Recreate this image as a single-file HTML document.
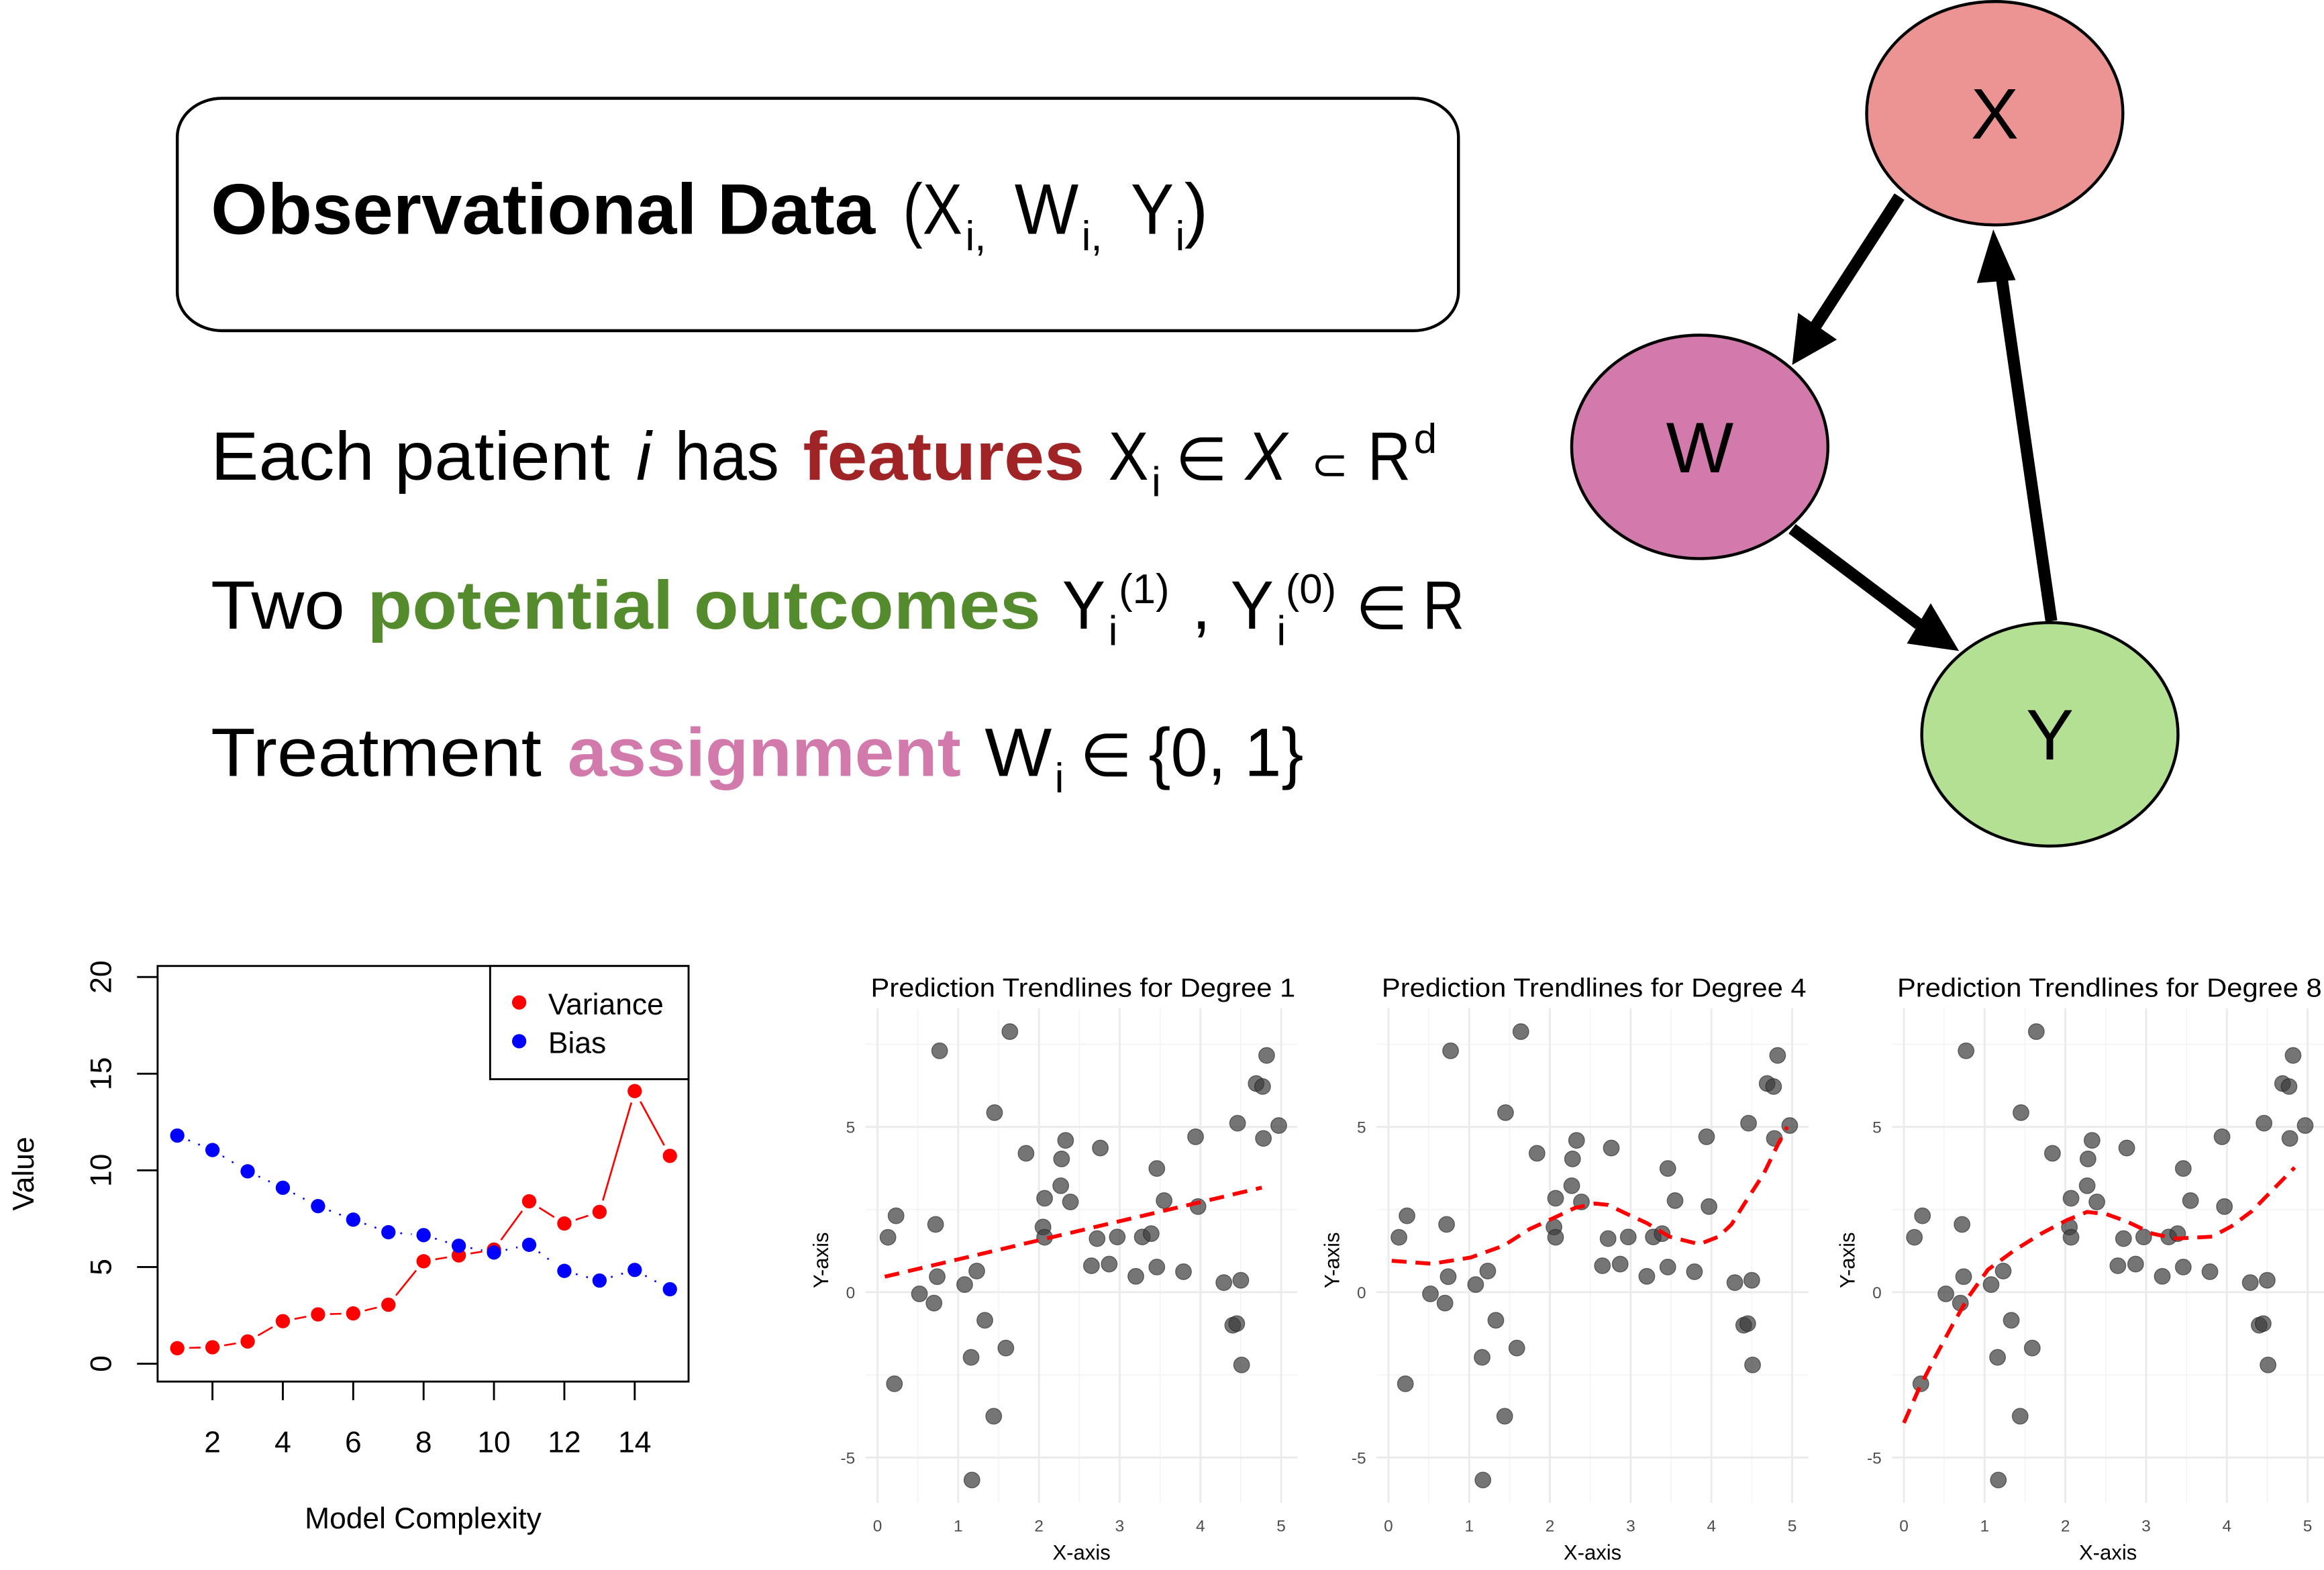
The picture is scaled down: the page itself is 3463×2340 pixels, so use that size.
<!DOCTYPE html>
<html><head><meta charset="utf-8"><style>
html,body{margin:0;padding:0;background:#fff;}
svg{display:block;}
text{font-family:"Liberation Sans",sans-serif;}
</style></head><body>
<svg id="s" xmlns="http://www.w3.org/2000/svg" width="3463" height="2340" viewBox="0 0 1560 1054" preserveAspectRatio="none">
<rect x="0" y="0" width="1560" height="1054" fill="#fff"/>
<!-- Title box -->
<rect x="119" y="66" width="860" height="156" rx="30" ry="26" fill="none" stroke="#000" stroke-width="2"/>
<g font-size="48" fill="#000">
<text x="141.5" y="157" font-weight="bold" textLength="446" lengthAdjust="spacingAndGlyphs">Observational Data</text>
<text x="606" y="157" textLength="40" lengthAdjust="spacingAndGlyphs">(X</text>
<text x="648" y="168" font-size="28">i,</text>
<text x="681" y="157" textLength="43" lengthAdjust="spacingAndGlyphs">W</text>
<text x="726" y="168" font-size="28">i,</text>
<text x="759" y="157" textLength="29" lengthAdjust="spacingAndGlyphs">Y</text>
<text x="789" y="168" font-size="28">i</text>
<text x="795" y="157">)</text>
</g>
<!-- Line 1 -->
<g font-size="46" fill="#000">
<text x="141.5" y="322" textLength="268" lengthAdjust="spacingAndGlyphs">Each patient</text>
<text x="427" y="322" font-style="italic">i</text>
<text x="453" y="322" textLength="70" lengthAdjust="spacingAndGlyphs">has</text>
<text x="539" y="322" font-weight="bold" fill="#a02326" textLength="189" lengthAdjust="spacingAndGlyphs">features</text>
<text x="744" y="322" textLength="27" lengthAdjust="spacingAndGlyphs">X</text>
<text x="773" y="333" font-size="28">i</text>
<text x="789" y="322" font-family="DejaVu Sans" font-size="40">∈</text>
<text x="836" y="322" font-style="italic" textLength="28" lengthAdjust="spacingAndGlyphs">X</text>
<text x="880" y="322" font-family="DejaVu Sans" font-size="30">⊂</text>
<text x="918" y="322" textLength="29" lengthAdjust="spacingAndGlyphs">R</text>
<text x="949" y="304" font-size="28">d</text>
</g>
<!-- Line 2 -->
<g font-size="46" fill="#000">
<text x="141.5" y="422" textLength="90" lengthAdjust="spacingAndGlyphs">Two</text>
<text x="246.6" y="422" font-weight="bold" fill="#548b2c" textLength="452" lengthAdjust="spacingAndGlyphs">potential outcomes</text>
<text x="713" y="422" textLength="29" lengthAdjust="spacingAndGlyphs">Y</text>
<text x="744" y="433" font-size="28">i</text>
<text x="751" y="405" font-size="28" textLength="34" lengthAdjust="spacingAndGlyphs">(1)</text>
<text x="800" y="422">,</text>
<text x="826" y="422" textLength="29" lengthAdjust="spacingAndGlyphs">Y</text>
<text x="857" y="433" font-size="28">i</text>
<text x="863" y="405" font-size="28" textLength="34" lengthAdjust="spacingAndGlyphs">(0)</text>
<text x="910" y="422" font-family="DejaVu Sans" font-size="40">∈</text>
<text x="955" y="422" textLength="28" lengthAdjust="spacingAndGlyphs">R</text>
</g>
<!-- Line 3 -->
<g font-size="46" fill="#000">
<text x="141.5" y="521" textLength="222" lengthAdjust="spacingAndGlyphs">Treatment</text>
<text x="381" y="521" font-weight="bold" fill="#d17aab" textLength="264" lengthAdjust="spacingAndGlyphs">assignment</text>
<text x="661" y="521" textLength="45" lengthAdjust="spacingAndGlyphs">W</text>
<text x="708" y="532" font-size="28">i</text>
<text x="725" y="521" font-family="DejaVu Sans" font-size="40">∈</text>
<text x="771" y="521" textLength="104" lengthAdjust="spacingAndGlyphs">{0, 1}</text>
</g>
<!-- DAG -->
<g stroke="#000" stroke-width="2">
<ellipse cx="1339" cy="76" rx="86" ry="75" fill="#ec9494"/>
<ellipse cx="1141" cy="300" rx="86" ry="75" fill="#d17aab"/>
<ellipse cx="1376" cy="493" rx="86" ry="75" fill="#b3e093"/>
</g>
<g stroke="#000" stroke-width="8" fill="none">
<line x1="1275" y1="132" x2="1218" y2="220"/>
<line x1="1203" y1="355" x2="1288" y2="419"/>
<line x1="1377" y1="417" x2="1343" y2="182"/>
</g>
<g fill="#000">
<polygon points="1203,245 1207,210 1233,228"/>
<polygon points="1315,437 1280,432 1296,405"/>
<polygon points="1338,154 1353,188 1327,190"/>
</g>
<g font-size="48" text-anchor="middle" fill="#000">
<text x="1339" y="93">X</text>
<text x="1141" y="317">W</text>
<text x="1376" y="510">Y</text>
</g>
<g id="left"></g>
<g id="right"></g>
</svg>
<script>
var NS="http://www.w3.org/2000/svg";
function el(p,t,a,txt){var e=document.createElementNS(NS,t);for(var k in a)e.setAttribute(k,a[k]);if(txt!==undefined)e.textContent=txt;p.appendChild(e);return e;}
// LEFT PLOT
var L=document.getElementById('left');
function lx(x){return 119.0+(x-1)*23.62;}
function ly(y){return 915.5-y*12.98;}
var V=[0.8,0.85,1.15,2.2,2.55,2.6,3.05,5.3,5.6,5.9,8.4,7.25,7.85,14.1,10.75];
var B=[11.8,11.05,9.95,9.1,8.15,7.45,6.8,6.65,6.1,5.75,6.15,4.8,4.3,4.85,3.85];
function seglines(arr,col,dash){
 for(var i=0;i<arr.length-1;i++){
  var x1=lx(i+1),y1=ly(arr[i]),x2=lx(i+2),y2=ly(arr[i+1]);
  var dx=x2-x1,dy=y2-y1,d=Math.sqrt(dx*dx+dy*dy),g=8;
  if(d<2*g+1)continue;
  var a={x1:x1+dx/d*g,y1:y1+dy/d*g,x2:x2-dx/d*g,y2:y2-dy/d*g,stroke:col,'stroke-width':1.2};
  if(dash)a['stroke-dasharray']=dash;
  el(L,'line',a);
 }
}
seglines(V,'#ff0000',null);
seglines(B,'#0000ff','1.2 6');
for(var i=0;i<15;i++){el(L,'circle',{cx:lx(i+1),cy:ly(V[i]),r:4.8,fill:'#ff0000'});}
for(var i=0;i<15;i++){el(L,'circle',{cx:lx(i+1),cy:ly(B[i]),r:4.8,fill:'#0000ff'});}
el(L,'rect',{x:105.8,y:648.5,width:356.4,height:279,fill:'none',stroke:'#000','stroke-width':1.3});
for(var v=0;v<=20;v+=5){var y=ly(v);el(L,'line',{x1:92,y1:y,x2:105.8,y2:y,stroke:'#000','stroke-width':1.3});
 el(L,'text',{x:68,y:y,'font-size':20,'text-anchor':'middle','dominant-baseline':'central',transform:'rotate(-90 68 '+y+')'},String(v));}
for(var v=2;v<=14;v+=2){var x=lx(v);el(L,'line',{x1:x,y1:927.5,x2:x,y2:940,stroke:'#000','stroke-width':1.3});
 el(L,'text',{x:x,y:975,'font-size':20,'text-anchor':'middle'},String(v));}
el(L,'text',{x:284,y:1026,'font-size':20,'text-anchor':'middle'},'Model Complexity');
el(L,'text',{x:16,y:788,'font-size':20,'text-anchor':'middle','dominant-baseline':'central',transform:'rotate(-90 16 788)'},'Value');
el(L,'rect',{x:329,y:648.5,width:133.2,height:76,fill:'#fff',stroke:'#000','stroke-width':1.3});
el(L,'circle',{cx:348.5,cy:673,r:4.8,fill:'#ff0000'});
el(L,'circle',{cx:348.5,cy:699,r:4.8,fill:'#0000ff'});
el(L,'text',{x:368,y:681,'font-size':20},'Variance');
el(L,'text',{x:368,y:707,'font-size':20},'Bias');
// RIGHT PANELS
var R=document.getElementById('right');
var P=[[0.13,1.66],[0.23,2.31],[0.21,-2.77],[0.52,-0.05],[0.70,-0.33],[0.74,0.47],[0.72,2.05],[0.77,7.30],[1.08,0.23],[1.23,0.64],[1.16,-1.97],[1.33,-0.85],[1.17,-5.68],[1.44,-3.75],[1.45,5.43],[1.59,-1.69],[1.64,7.88],[1.84,4.20],[2.05,1.97],[2.07,1.66],[2.07,2.84],[2.27,3.22],[2.28,4.03],[2.33,4.59],[2.39,2.73],[2.65,0.80],[2.72,1.62],[2.76,4.36],[2.87,0.85],[2.97,1.67],[3.20,0.48],[3.28,1.67],[3.39,1.77],[3.46,3.74],[3.46,0.76],[3.55,2.77],[3.79,0.62],[3.94,4.70],[3.97,2.59],[4.29,0.29],[4.46,5.11],[4.50,0.36],[4.40,-1.00],[4.45,-0.95],[4.51,-2.20],[4.69,6.31],[4.77,6.22],[4.82,7.16],[4.78,4.65],[4.97,5.04]];
var C1=[[0.09,0.47],[4.76,3.16]];
var C4=[[0.04,0.95],[0.54,0.86],[1.02,1.05],[1.43,1.41],[1.75,1.91],[2.07,2.27],[2.31,2.55],[2.56,2.68],[2.72,2.64],[2.96,2.36],[3.2,2.09],[3.48,1.68],[3.85,1.45],[4.09,1.68],[4.25,2.05],[4.41,2.68],[4.65,3.59],[4.83,4.5],[4.94,5.0]];
var C8=[[0,-3.95],[0.19,-2.9],[0.39,-1.95],[0.6,-1.0],[0.8,-0.14],[1.04,0.68],[1.37,1.27],[1.7,1.77],[2.02,2.18],[2.27,2.43],[2.51,2.36],[2.76,2.14],[3.08,1.77],[3.37,1.62],[3.82,1.68],[4.06,2.0],[4.31,2.45],[4.55,3.05],[4.84,3.77]];
var offs=[0,343,689],curves=[C1,C4,C8],deg=[1,4,8];
for(var p=0;p<3;p++){
 var o=offs[p];
 var X=function(x){return 589+o+x*54.2;},Y=function(y){return 867.5-y*22.2;};
 var l=581+o,r=871+o,t=677,b=1009;
 [-2.5,2.5,7.5].forEach(function(v){el(R,'line',{x1:l,y1:Y(v),x2:r,y2:Y(v),stroke:'#f3f3f3','stroke-width':0.7});});
 [0.5,1.5,2.5,3.5,4.5].forEach(function(v){el(R,'line',{x1:X(v),y1:t,x2:X(v),y2:b,stroke:'#f3f3f3','stroke-width':0.7});});
 [-5,0,5].forEach(function(v){el(R,'line',{x1:l,y1:Y(v),x2:r,y2:Y(v),stroke:'#ebebeb','stroke-width':1.3});
  el(R,'text',{x:574+o,y:Y(v)+4,'font-size':11,'text-anchor':'end',fill:'#4d4d4d'},String(v));});
 [0,1,2,3,4,5].forEach(function(v){el(R,'line',{x1:X(v),y1:t,x2:X(v),y2:b,stroke:'#ebebeb','stroke-width':1.3});
  el(R,'text',{x:X(v),y:1028,'font-size':11,'text-anchor':'middle',fill:'#4d4d4d'},String(v));});
 P.forEach(function(q){el(R,'circle',{cx:X(q[0]),cy:Y(q[1]),r:5.3,fill:'#3a3a3a','fill-opacity':0.7,stroke:'#222','stroke-opacity':0.6,'stroke-width':0.6});});
 var d='';curves[p].forEach(function(q,i){d+=(i?'L':'M')+X(q[0]).toFixed(1)+','+Y(q[1]).toFixed(1);});
 el(R,'path',{d:d,fill:'none',stroke:'#ff0000','stroke-width':2.6,'stroke-dasharray':'10 6'});
 el(R,'text',{x:727+o,y:669,'font-size':17.5,'text-anchor':'middle',textLength:285,lengthAdjust:'spacingAndGlyphs'},'Prediction Trendlines for Degree '+deg[p]);
 el(R,'text',{x:726+o,y:1047,'font-size':14,'text-anchor':'middle'},'X-axis');
 el(R,'text',{x:556+o,y:846,'font-size':14,'text-anchor':'middle',transform:'rotate(-90 556 846)'.replace('556',String(556+o)).replace('556',String(556+o))},'Y-axis');
}
</script>
</body></html>
